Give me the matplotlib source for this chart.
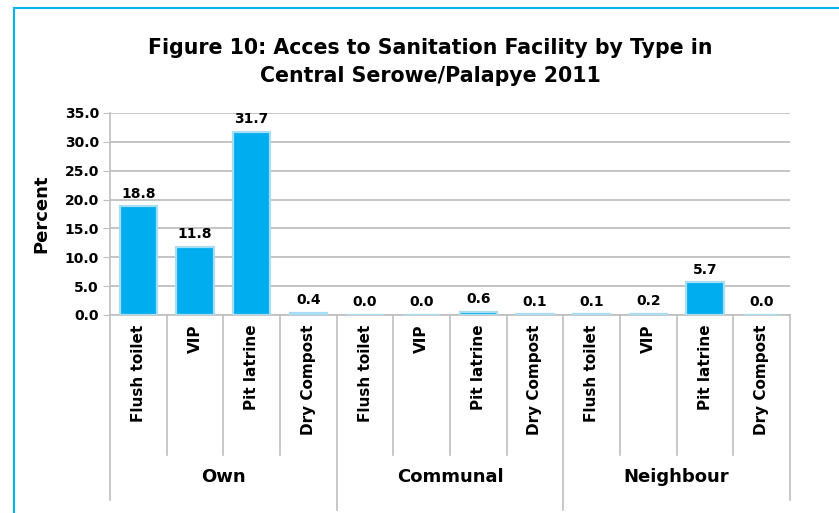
import matplotlib
matplotlib.use("Agg")
import matplotlib.pyplot as plt
from matplotlib.lines import Line2D
import matplotlib.transforms as mtransforms

groups = ["Own", "Communal", "Neighbour"]
types = ["Flush toilet", "VIP", "Pit latrine", "Dry Compost"]
values = [18.8, 11.8, 31.7, 0.4,
          0.0, 0.0, 0.6, 0.1,
          0.1, 0.2, 5.7, 0.0]
labels = types * len(groups)
title = "Figure 10: Acces to Sanitation Facility by Type in\nCentral Serowe/Palapye 2011"

plt.rcParams['font.family'] = ['DejaVu Sans']
fig = plt.figure(figsize=(8.39, 5.13), dpi=100)
W, H = 839, 513
ax = fig.add_axes([110 / W, 1 - 315 / H, 680 / W, 202 / H])

x = list(range(len(values)))
bar_color = '#00AEEF'
grid_color = '#BFBFBF'
ax.bar(x, values, width=0.66, color=bar_color, edgecolor='#A8DDF3', linewidth=1.6, zorder=3)
for xi, v in zip(x, values):
    ax.annotate(f"{v:.1f}", (xi, v), xytext=(0, 4), textcoords='offset points',
                ha='center', va='bottom', fontsize=10, fontweight='bold', color='black')

ax.set_xlim(-0.5, len(values) - 0.5)
ax.set_ylim(0, 35)
ax.set_yticks([0, 5, 10, 15, 20, 25, 30, 35])
ax.set_yticklabels([f"{t:.1f}" for t in [0, 5, 10, 15, 20, 25, 30, 35]],
                   fontsize=10, fontweight='bold')
ax.yaxis.grid(True, color=grid_color, linewidth=1.3, zorder=0)
ax.set_axisbelow(True)
ax.tick_params(axis='y', length=5, color=grid_color, pad=3)
ax.set_xticks(x)
ax.set_xticklabels(labels, rotation=90, fontsize=11, fontweight='bold', va='top')
ax.tick_params(axis='x', length=0, pad=7)
for s in ['top', 'right']:
    ax.spines[s].set_visible(False)
ax.spines['left'].set_color(grid_color)
ax.spines['bottom'].set_color(grid_color)
ax.spines['left'].set_linewidth(1.2)
ax.spines['bottom'].set_linewidth(1.2)

ax.set_ylabel("Percent", fontsize=13, fontweight='bold', labelpad=10)

trans = mtransforms.blended_transform_factory(ax.transData, ax.transAxes)
n = len(types)
for i in range(len(values) + 1):
    xb = i - 0.5
    if i % n == 0:
        ybot = -0.965 if i in (n, 2 * n) else -0.916
    else:
        ybot = -0.693
    ax.add_line(Line2D([xb, xb], [0, ybot], transform=trans, color=grid_color,
                       linewidth=1.2, clip_on=False))
for gi, g in enumerate(groups):
    ax.text(gi * n + (n - 1) / 2, -0.80, g, transform=trans, ha='center', va='center',
            fontsize=13, fontweight='bold')

fig.text(430 / W, 1 - 62 / H, title, ha='center', va='center', fontsize=14.8,
         fontweight='bold', linespacing=1.5)

border = '#00B4F0'
fig.add_artist(Line2D([14 / W, 14 / W], [0, 1 - 8 / H], color=border, linewidth=1.5,
                      transform=fig.transFigure))
fig.add_artist(Line2D([14 / W, 1], [1 - 8 / H, 1 - 8 / H], color=border, linewidth=1.5,
                      transform=fig.transFigure))

fig.savefig("out.png", dpi=100)
